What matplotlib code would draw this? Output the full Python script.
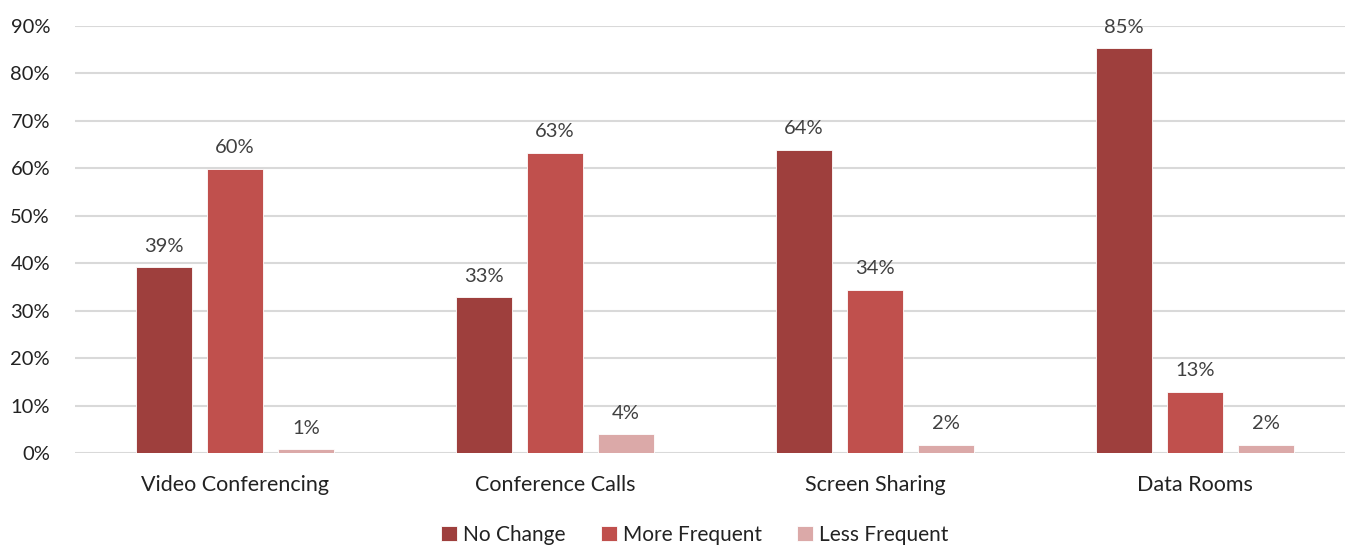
import matplotlib
matplotlib.use("Agg")
import matplotlib.pyplot as plt
import numpy as np

categories = ["Video Conferencing", "Conference Calls", "Screen Sharing", "Data Rooms"]
series_names = ["No Change", "More Frequent", "Less Frequent"]
no_change = [0.392, 0.328, 0.639, 0.853]
more_frequent = [0.599, 0.633, 0.344, 0.129]
less_frequent = [0.008, 0.040, 0.017, 0.017]
labels_no_change = ["39%", "33%", "64%", "85%"]
labels_more = ["60%", "63%", "34%", "13%"]
labels_less = ["1%", "4%", "2%", "2%"]
yticks = [0, 0.1, 0.2, 0.3, 0.4, 0.5, 0.6, 0.7, 0.8, 0.9]
ytick_labels = ["0%", "10%", "20%", "30%", "40%", "50%", "60%", "70%", "80%", "90%"]

colors = ["#9E3F3D", "#C0504D", "#DBA9A8"]
plt.rcParams['font.family'] = ['Lato', 'DejaVu Sans']

W, H = 1345, 546
fig = plt.figure(figsize=(W / 100, H / 100), dpi=100)
ax = fig.add_axes([75 / W, (H - 453) / H, 1280 / W, 427 / H])

x = np.arange(len(categories))
bw = 0.175
step = 0.222
all_series = [no_change, more_frequent, less_frequent]
all_labels = [labels_no_change, labels_more, labels_less]
for i, (vals, labs) in enumerate(zip(all_series, all_labels)):
    pos = x + (i - 1) * step
    bars = ax.bar(pos, vals, width=bw, color=colors[i], label=series_names[i],
                  edgecolor="white", linewidth=0.6, zorder=3)
    for p, v, l in zip(pos, vals, labs):
        ax.annotate(l, (p, v), xytext=(0, 9), textcoords="offset points",
                    ha="center", va="bottom", fontsize=14.5, color="#404040")

ax.set_xlim(-0.5, len(categories) - 0.5)
ax.set_ylim(0, 0.9)
ax.set_yticks(yticks)
ax.set_yticklabels(ytick_labels, fontsize=14.5, color="#222222")
ax.set_xticks(x)
ax.set_xticklabels(categories, fontsize=15.5, color="#222222")
ax.tick_params(axis="both", length=0)
ax.tick_params(axis="y", pad=18)
ax.tick_params(axis="x", pad=16)
ax.grid(axis="y", color="#D9D9D9", linewidth=1.5, zorder=0)
for s in ax.spines.values():
    s.set_visible(False)

fig.legend(loc="center", bbox_to_anchor=(695 / W, 1 - 535 / H), ncol=3, frameon=False,
           fontsize=15, handlelength=0.75, handleheight=0.75, columnspacing=1.7,
           handletextpad=0.3, labelcolor="#222222")

fig.savefig("out.png", dpi=100)
